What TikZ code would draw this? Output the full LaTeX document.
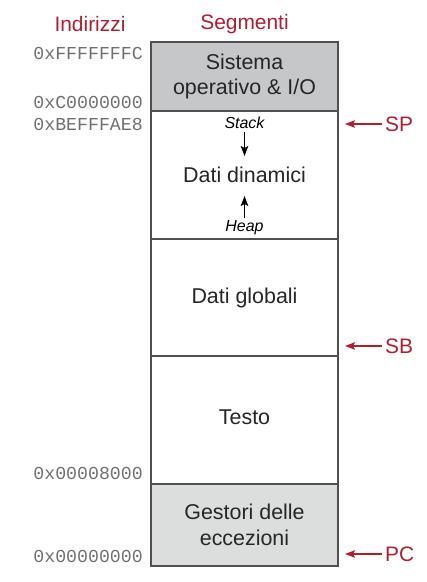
\documentclass[tikz,border=0pt]{standalone}
\usepackage{fontspec}
\usetikzlibrary{arrows.meta}
\setmainfont{Liberation Sans}
\newfontfamily\addrfont{Liberation Mono}
\definecolor{segred}{HTML}{B01F2E}
\definecolor{osgray}{HTML}{C5C7C9}
\definecolor{excgray}{HTML}{DCDDDD}
\definecolor{linegray}{HTML}{505050}
\definecolor{addrgray}{HTML}{707070}
\begin{document}
\begin{tikzpicture}[x=1bp,y=-1bp,>={Stealth[length=10bp,width=7.5bp,inset=2bp]},
	seg/.style={draw=linegray,line width=1.2bp,minimum width=187bp,inner sep=0pt,align=center,text=black!85,font=\fontsize{21.5}{26}\selectfont},
	addr/.style={anchor=east,inner sep=0pt,text=addrgray,font=\addrfont\fontsize{18.3}{20}\selectfont},
	reg/.style={anchor=west,inner sep=3bp,text=segred,font=\fontsize{21}{24}\selectfont},
	head/.style={text=segred,font=\fontsize{21}{24}\selectfont},
	small/.style={font=\itshape\fontsize{16}{18}\selectfont,inner sep=2.5bp}]
	\useasboundingbox (0,0) rectangle (426,582);
	% intestazioni
	\node[head] (indirizzi) at (90,24) {Indirizzi};
	\node[head] (segmenti) at (244.5,24) {Segmenti};
	% segmenti
	\node[seg,fill=osgray,minimum height=69bp] (os) at (244.5,76.5) {Sistema\\operativo \& I/O};
	\node[seg,minimum height=128bp] (dinamici) at (244.5,175) {Dati dinamici};
	\node[seg,minimum height=117bp] (globali) at (244.5,297.5) {Dati globali};
	\node[seg,minimum height=128bp] (testo) at (244.5,420) {\raisebox{5bp}{Testo}};
	\node[seg,fill=excgray,minimum height=82bp] (eccezioni) at (244.5,525) {Gestori delle\\eccezioni};
	% stack e heap
	\node[small] (stack) at (244.5,123) {Stack};
	\coordinate (stackend) at (244.5,156);
	\draw[->,line width=1bp] (stack) -- (stackend);
	\node[small] (heap) at (244.5,228) {Heap};
	\coordinate (heapend) at (244.5,196);
	\draw[->,line width=1bp] (heap) -- (heapend);
	% indirizzi
	\node[addr] (addrtop) at (143,53.5) {0xFFFFFFFC};
	\node[addr] (addros) at (143,102) {0xC0000000};
	\node[addr] (addrsp) at (143,124) {0xBEFFFAE8};
	\node[addr] (addrtext) at (143,473) {0x00008000};
	\node[addr] (addrexc) at (143,556) {0x00000000};
	% registri
	\node[reg] (sp) at (382,124) {SP};
	\coordinate (spend) at (345,124);
	\draw[->,segred,line width=1.4bp] (sp) -- (spend);
	\node[reg] (sb) at (382,346) {SB};
	\coordinate (sbend) at (345,346);
	\draw[->,segred,line width=1.4bp] (sb) -- (sbend);
	\node[reg] (pc) at (382,554) {PC};
	\coordinate (pcend) at (345,554);
	\draw[->,segred,line width=1.4bp] (pc) -- (pcend);
\end{tikzpicture}
\end{document}
